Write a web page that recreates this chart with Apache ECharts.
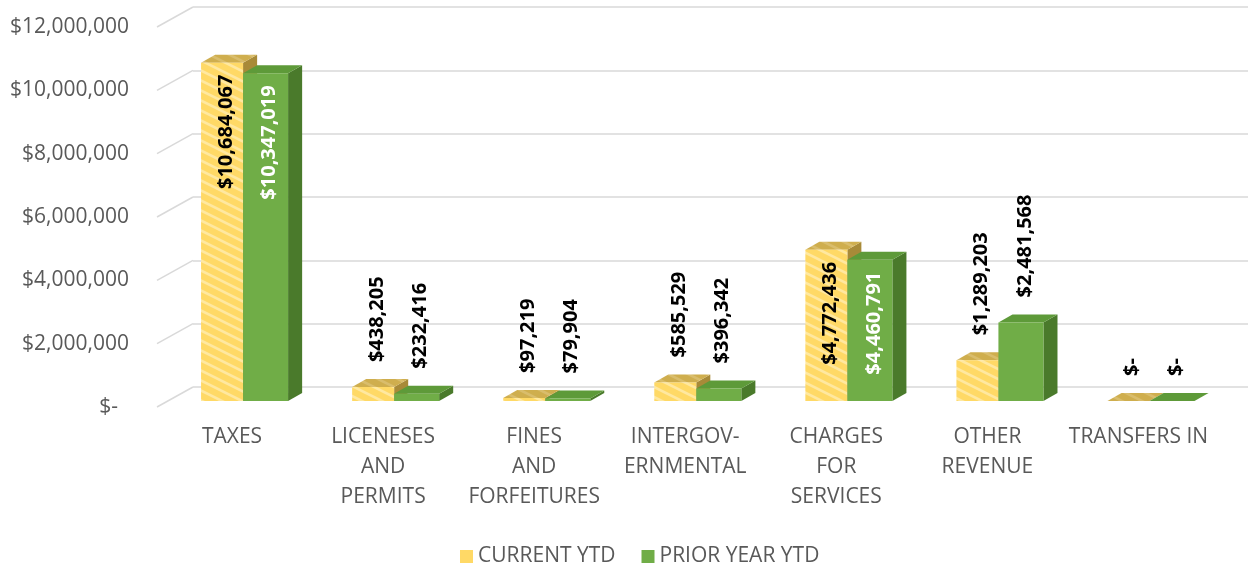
<!DOCTYPE html>
<html>
<head>
<meta charset="utf-8">
<script src="https://cdn.jsdelivr.net/npm/echarts@6/dist/echarts.min.js"></script>
<style>
html,body{margin:0;padding:0;background:#fff;}
#chart{width:1248px;height:566px;}
</style>
</head>
<body>
<div id="chart"></div>
<script>
const categories = ['TAXES', 'LICENESES\nAND\nPERMITS', 'FINES\nAND\nFORFEITURES', 'INTERGOV-\nERNMENTAL', 'CHARGES\nFOR\nSERVICES', 'OTHER\nREVENUE', 'TRANSFERS IN'];
const currentYTD = [10684067, 438205, 97219, 585529, 4772436, 1289203, 0];
const priorYearYTD = [10347019, 232416, 79904, 396342, 4460791, 2481568, 0];
const yTicks = [0, 2000000, 4000000, 6000000, 8000000, 10000000, 12000000];
const seriesNames = ['CURRENT YTD', 'PRIOR YEAR YTD'];

const FONT = '"Open Sans", "Liberation Sans", sans-serif';
const TXT = '#595959';

function fmtMoney(v) {
  return v === 0 ? '$-' : '$' + v.toLocaleString('en-US');
}

function stripePattern(base, stripe) {
  const c = document.createElement('canvas');
  c.width = 20; c.height = 10;
  const g = c.getContext('2d');
  g.fillStyle = base; g.fillRect(0, 0, 20, 10);
  g.strokeStyle = stripe; g.lineWidth = 2.6;
  for (let k = -2; k <= 2; k++) {
    g.beginPath();
    g.moveTo(-20, -10 + 10 * k);
    g.lineTo(40, 20 + 10 * k);
    g.stroke();
  }
  return { image: c, repeat: 'repeat' };
}

const yellowFront = stripePattern('#FFD966', '#FFE8A0');
const yellowTop = stripePattern('#CFAE4E', '#D9BD6C');
const styles = [
  { front: yellowFront, top: yellowTop, side: '#A88A38', inside: '#000000' },
  { front: '#70AD47', top: '#5E9A39', side: '#4A7A2B', inside: '#FFFFFF' }
];
const offsets = [[-0.205, 0.073], [0.073, 0.371]];

function makeRender(si) {
  return function (params, api) {
    const idx = api.value(0), v = api.value(1);
    const base = api.coord([idx, 0]);
    const top = api.coord([idx, v]);
    const bw = api.size([1, 0])[0];
    const xl = base[0] + offsets[si][0] * bw;
    const xr = base[0] + offsets[si][1] * bw;
    const dx = 0.093 * bw, dy = -8;
    const yb = base[1], yt = top[1];
    const st = styles[si];
    const children = [
      { type: 'polygon', shape: { points: [[xr, yb], [xr + dx, yb + dy], [xr + dx, yt + dy], [xr, yt]] }, style: { fill: st.side } },
      { type: 'polygon', shape: { points: [[xl, yt], [xl + dx, yt + dy], [xr + dx, yt + dy], [xr, yt]] }, style: { fill: st.top } }
    ];
    if (yb - yt > 0.5) {
      children.push({ type: 'rect', shape: { x: xl, y: yt, width: xr - xl, height: yb - yt }, style: { fill: st.front } });
    }
    const inside = v > 3000000;
    const lx = (xl + xr) / 2 + 4;
    const ly = inside ? yt + 12 : yt - 25;
    children.push({
      type: 'text', x: lx, y: ly, rotation: Math.PI / 2,
      style: {
        text: fmtMoney(v), fill: inside ? st.inside : '#000000',
        font: 'bold 20px ' + FONT,
        align: inside ? 'right' : 'left', verticalAlign: 'middle',
        textAlign: inside ? 'right' : 'left', textVerticalAlign: 'middle'
      }
    });
    return { type: 'group', children: children };
  };
}

function renderDiag(params, api) {
  const v = api.value(0);
  const p = api.coord([0, v]);
  const x0 = params.coordSys.x;
  return {
    type: 'polyline',
    shape: { points: [[x0 - 36, p[1] + 20], [x0, p[1]]] },
    style: { stroke: '#D9D9D9', lineWidth: 1.5, fill: null }
  };
}

const chart = echarts.init(document.getElementById('chart'));
chart.setOption({
  animation: false,
  backgroundColor: '#ffffff',
  grid: [
    { left: 193, right: 0, top: 7, bottom: 179 },
    { left: 157, right: 1000, top: 27, bottom: 159 },
    { left: 156.5, right: 34, top: 21, bottom: 165 }
  ],
  xAxis: [
    { gridIndex: 0, type: 'category', data: categories, show: false },
    { gridIndex: 1, type: 'category', data: categories, show: false },
    {
      gridIndex: 2, type: 'category', data: categories,
      axisLine: { show: false }, axisTick: { show: false },
      axisLabel: { color: TXT, fontFamily: FONT, fontSize: 21, lineHeight: 30, margin: 21, interval: 0 }
    }
  ],
  yAxis: [
    {
      gridIndex: 0, type: 'value', min: 0, max: 12000000, interval: 2000000,
      axisLabel: { show: false }, axisLine: { show: false }, axisTick: { show: false },
      splitLine: { lineStyle: { color: '#D9D9D9', width: 1.5 } }
    },
    {
      gridIndex: 1, type: 'value', min: 0, max: 12000000, interval: 2000000,
      axisLine: { show: false }, axisTick: { show: false }, splitLine: { show: false },
      axisLabel: {
        color: TXT, fontFamily: FONT, fontSize: 21, margin: 28,
        formatter: function (v) { return v === 0 ? '$-  ' : fmtMoney(v); }
      }
    },
    {
      gridIndex: 2, type: 'value', min: 0, max: 12000000, interval: 2000000, show: false,
      splitLine: { show: false }
    }
  ],
  legend: {
    data: seriesNames, left: 455, top: 541, icon: 'rect', itemWidth: 13, itemHeight: 13, itemGap: 26,
    textStyle: { color: TXT, fontFamily: FONT, fontSize: 21 }
  },
  series: [
    {
      type: 'custom', xAxisIndex: 0, yAxisIndex: 0, renderItem: renderDiag,
      data: yTicks.map(function (t) { return [t]; }), silent: true, z: 1
    },
    {
      name: seriesNames[0], type: 'custom', xAxisIndex: 2, yAxisIndex: 2,
      itemStyle: { color: '#FFD966' }, renderItem: makeRender(0), z: 3,
      data: currentYTD.map(function (v, i) { return [i, v]; })
    },
    {
      name: seriesNames[1], type: 'custom', xAxisIndex: 2, yAxisIndex: 2,
      itemStyle: { color: '#70AD47' }, renderItem: makeRender(1), z: 4,
      data: priorYearYTD.map(function (v, i) { return [i, v]; })
    }
  ]
});
</script>
</body>
</html>
